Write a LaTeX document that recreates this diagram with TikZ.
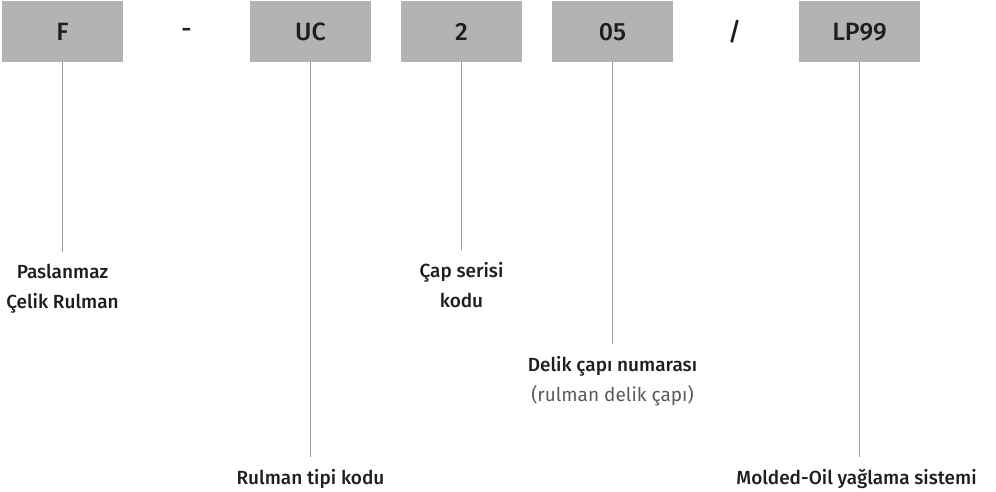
\documentclass[tikz,border=0pt]{standalone}
\usepackage{fontspec}
\setmainfont{Fira Sans}[BoldFont={Fira Sans Medium}]
\usepackage{xcolor}
\usetikzlibrary{positioning}
\definecolor{boxgray}{HTML}{B3B3B3}
\definecolor{textdark}{HTML}{1E1E1E}
\definecolor{linegray}{HTML}{9A9A9A}
\definecolor{notegray}{HTML}{5A5A5A}
\tikzstyle{codebox} = [rectangle, minimum width=121pt, minimum height=61pt, inner sep=0pt, outer sep=0pt, text height=17pt, text depth=0pt, fill=boxgray, text=textdark, font=\fontsize{25}{28}\selectfont\bfseries]
\tikzstyle{separator} = [minimum width=67pt, inner sep=0pt, outer sep=0pt, text height=17pt, text depth=0pt, text=textdark, font=\fontsize{25}{28}\selectfont\bfseries]
\tikzstyle{caption} = [align=center, inner sep=0pt, outer sep=0pt, text=textdark, font=\fontsize{19}{30}\selectfont\bfseries]
\tikzstyle{leader} = [draw=linegray, line width=1pt, shorten >=12pt]

\begin{document}
\begin{tikzpicture}[node distance=30pt and 30pt]
        \useasboundingbox (0,0) rectangle (996pt,-491pt);
        \node (f) [codebox] at (62.5pt,-31.5pt) {F};
        \node (dash) [separator, right=of f, yshift=3pt] {-};
        \node (uc) [codebox, right=of f, xshift=97pt] {UC};
        \node (two) [codebox, right=of uc] {2};
        \node (five) [codebox, right=of two] {05};
        \node (slash) [separator, right=of five, xshift=-2pt] {/};
        \node (lp) [codebox, right=of five, xshift=96pt] {LP99};

        \node (pasl) [caption, below=202pt of f] {Paslanmaz\\Çelik Rulman};
        \node (tipi) [caption, below=407pt of uc] {Rulman tipi kodu};
        \node (seri) [caption, below=200pt of two] {Çap serisi\\kodu};
        \node (delik) [caption, below=294pt of five] {Delik çapı numarası\\{\mdseries\color{notegray}(rulman delik çapı)}};
        \node (oil) [caption, below=407pt of lp, xshift=-3pt] {Molded-Oil yağlama sistemi};

        \draw [leader] (f) -- (pasl);
        \draw [leader] (uc) -- (tipi);
        \draw [leader] (two) -- (seri);
        \draw [leader] (five) -- (delik.north -| five);
        \draw [leader] (lp) -- (oil.north -| lp);
    \end{tikzpicture}
\end{document}
